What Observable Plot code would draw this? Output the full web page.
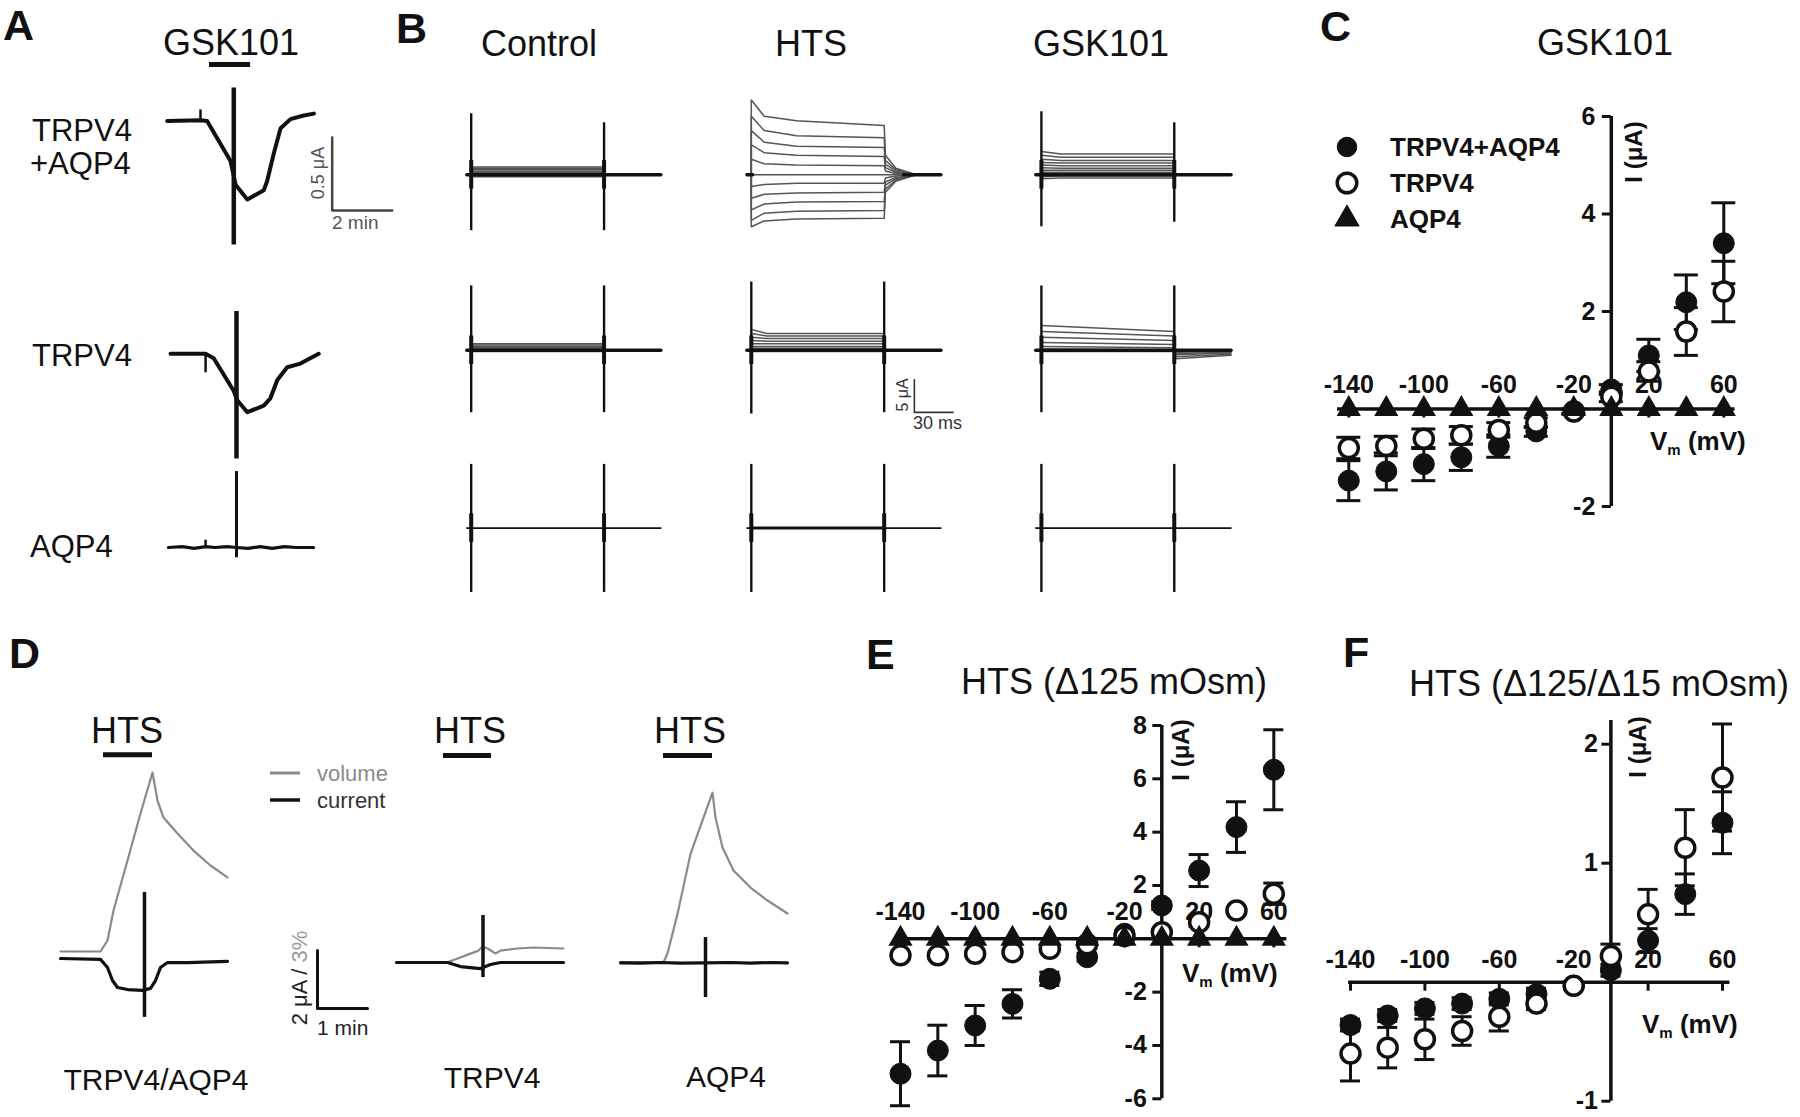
<!DOCTYPE html>
<html><head><meta charset="utf-8">
<script src="https://cdn.jsdelivr.net/npm/d3@7"></script>
<script src="https://cdn.jsdelivr.net/npm/@observablehq/plot@0.6"></script>
<style>
html,body{margin:0;padding:0;background:#fff;overflow:hidden}
#root{position:relative;width:1800px;height:1117px;background:#fff;font-family:"Liberation Sans",Arial,Helvetica,sans-serif}
#root svg{position:absolute;left:0;top:0}
</style></head>
<body><div id="root"></div>
<script>
// ================= DATA =================
// ---- Panel A: GSK101 current traces (time in min, current in µA) ----
const aRowLabels = [["TRPV4", "+AQP4"], ["TRPV4"], ["AQP4"]];
const aT1 = [0, 1.11, 1.33, 2.11, 2.28, 2.67, 3.22, 3.33, 3.55, 3.78, 4.11, 4.55, 4.89];
const aI1 = [0, 0.005, 0, -0.275, -0.437, -0.538, -0.475, -0.413, -0.225, -0.05, 0.012, 0.037, 0.05];
const aT2 = [0.11, 1.28, 1.55, 2.22, 2.33, 2.67, 3.22, 3.44, 3.67, 4.0, 4.44, 5.05];
const aI2 = [0, 0, -0.03, -0.255, -0.316, -0.4, -0.355, -0.305, -0.18, -0.092, -0.067, 0];
const aT3 = [0.04, 0.5, 0.9, 1.28, 1.6, 2.0, 2.31, 2.7, 3.1, 3.5, 3.9, 4.3, 4.88];
const aI3 = [0, 0.006, -0.006, 0.006, 0, 0.006, 0, -0.006, 0.006, -0.006, 0.006, 0, 0];
const aSpikeT = [2.22, 2.31, 2.31];
const aSpikeTop = [0.225, 0.29, 0.52];
const aSpikeBottom = [-0.85, -0.72, -0.07];
const aTickT = [1.11, 1.28, 1.28];
const aTickTop = [0.075, 0, 0.05];
const aTickBottom = [0, -0.13, 0];
const aGskBar = {t0: 1.41, t1: 2.78, i: 0.386};
const aScaleBar = {t: 5.5, i: -0.613, min: 2, uA: 0.5};

// ---- Panel B: step currents (time in ms, current in µA) ----
const bConditions = ["Control", "HTS", "GSK101"];
const bPulse = {pre: -3.4, on: 0, off: 103, end: 147};
// row 1 (TRPV4+AQP4)
const bCtl1 = [1.2, 1.0, 0.8, 0.6, 0.45, 0.3, 0.15, 0, -0.1, -0.2, -0.3];
const bHts1Peak = [11.5, 9.0, 6.8, 4.6, 2.4, 0, -1.8, -3.6, -5.4, -7.0, -8.0];
const bHts1Mid = [9.0, 6.8, 5.0, 3.4, 1.7, 0, -1.5, -3.0, -4.5, -5.9, -7.1];
const bHts1Early = [8.3, 6.0, 4.4, 3.0, 1.5, 0, -1.3, -2.8, -4.2, -5.6, -6.8];
const bHts1End = [7.6, 5.7, 4.2, 2.8, 1.4, 0, -1.3, -2.7, -4.1, -5.5, -6.7];
const bHts1Tail = [3.0, 2.2, 1.6, 1.1, 0.6, 0, -0.5, -1.1, -1.6, -2.2, -2.7];
const bHts1Tail2 = [1.0, 0.8, 0.6, 0.4, 0.2, 0, -0.2, -0.4, -0.6, -0.8, -1.0];
const bGsk1Start = [3.6, 3.0, 2.4, 1.9, 1.5, 1.1, 0.7, 0.4, 0.1, -0.3, -0.6];
const bGsk1End = [3.2, 2.7, 2.2, 1.8, 1.4, 1.0, 0.7, 0.4, 0.1, -0.2, -0.5];
// row 2 (TRPV4)
const bCtl2 = [1.0, 0.8, 0.6, 0.45, 0.3, 0.15, 0, -0.1, -0.2];
const bHts2Start = [3.2, 2.6, 2.0, 1.5, 1.0, 0.6, 0.3, 0, -0.2];
const bHts2End = [2.6, 2.2, 1.8, 1.4, 1.0, 0.6, 0.3, 0, -0.2];
const bGsk2Start = [3.8, 2.9, 2.0, 1.2, 0.6, 0.2, 0, -0.2];
const bGsk2End = [2.9, 2.2, 1.5, 0.9, 0.4, 0.1, 0, -0.2];
const bGsk2Tail = [-1.3, -1.0, -0.7, -0.5, -0.3, -0.1, 0, 0];
// capacitive spikes [on top, on bottom, off top, off bottom] per row, per column
const bSpikes = [
  [[9.4, -8.6, 8.0, -8.6], null, [9.7, -8.0, 8.0, -7.3]],
  [[9.9, -9.6, 9.9, -9.6], [10.5, -9.8, 10.5, -9.6], [9.9, -9.6, 9.9, -9.6]],
  [[9.8, -9.9, 9.8, -9.9], [9.8, -9.9, 9.8, -9.9], [9.8, -9.9, 9.8, -9.9]]
];
const bScaleBar = {t: 126.4, i: -9.55, ms: 30, uA: 5};

// ---- Panel C / E / F: I–V relations ----
const ivVoltages = [-140, -120, -100, -80, -60, -40, -20, 0, 20, 40, 60];
const ivSeries = ["TRPV4+AQP4", "TRPV4", "AQP4"];
const xTickValues = [-140, -100, -60, -20, 20, 60];

const cTicksY = [6, 4, 2, -2];
const cBoth = [-1.47, -1.28, -1.13, -0.99, -0.76, -0.46, -0.05, 0.4, 1.1, 2.19, 3.4];
const cBothErr = [0.41, 0.38, 0.34, 0.27, 0.23, 0.1, 0.05, 0.1, 0.33, 0.56, 0.83];
const cTrpv4 = [-0.8, -0.76, -0.61, -0.54, -0.43, -0.28, -0.05, 0.25, 0.77, 1.59, 2.41];
const cTrpv4Err = [0.22, 0.2, 0.2, 0.18, 0.15, 0.1, 0.05, 0.1, 0.2, 0.49, 0.62];
const cAqp4 = [0, 0, 0, 0, 0, 0, 0, 0, 0, 0, 0];

const eTicksY = [8, 6, 4, 2, -2, -4, -6];
const eBoth = [-5.06, -4.19, -3.25, -2.44, -1.5, -0.69, 0.19, 1.25, 2.56, 4.19, 6.34];
const eBothErr = [1.2, 0.95, 0.75, 0.53, 0.25, 0.15, 0.1, 0.15, 0.6, 0.95, 1.5];
const eTrpv4 = [-0.62, -0.62, -0.56, -0.5, -0.37, -0.2, 0.1, 0.25, 0.62, 1.06, 1.69];
const eTrpv4Err = [0.1, 0.1, 0.1, 0.1, 0.1, 0.1, 0.1, 0.1, 0.15, 0.1, 0.4];
const eAqp4 = [0, 0, 0, 0, 0, 0, 0, 0, 0, 0, 0];

const fTicksY = [2, 1, -1];
const fBoth = [-0.36, -0.28, -0.22, -0.18, -0.14, -0.1, -0.03, 0.1, 0.35, 0.74, 1.34];
const fBothErr = [0.05, 0.05, 0.05, 0.05, 0.05, 0.05, 0.03, 0.05, 0.1, 0.17, 0.26];
const fTrpv4 = [-0.6, -0.55, -0.48, -0.41, -0.29, -0.18, -0.03, 0.22, 0.57, 1.13, 1.72];
const fTrpv4Err = [0.23, 0.17, 0.17, 0.12, 0.12, 0.05, 0.03, 0.1, 0.21, 0.32, 0.45];

// ---- Panel D: volume (%) and current (µA) vs time (min) ----
const dLabels = ["TRPV4/AQP4", "TRPV4", "AQP4"];
const dVolT1 = [0, 0.8, 0.94, 1.06, 1.34, 1.6, 1.84, 1.94, 2.06, 2.34, 2.66, 3.0, 3.34];
const dVol1 = [0, 0, 0.57, 2.12, 4.71, 7.14, 9.26, 7.81, 6.93, 6.10, 5.22, 4.45, 3.83];
const dCurT1 = [0, 0.8, 0.94, 1.04, 1.14, 1.34, 1.64, 1.8, 1.9, 2.0, 2.14, 2.54, 3.34];
const dCur1 = [0, -0.03, -0.31, -0.76, -1.0, -1.07, -1.10, -1.03, -0.76, -0.31, -0.14, -0.14, -0.10];
const dVolT2 = [0, 1.02, 1.64, 1.72, 1.82, 1.98, 2.08, 2.42, 2.74, 3.34];
const dVol2 = [0, 0, 0.6, 0.81, 0.71, 0.45, 0.6, 0.71, 0.76, 0.71];
const dCurT2 = [0, 1.02, 1.28, 1.68, 1.88, 2.08, 3.34];
const dCur2 = [0, 0, -0.14, -0.21, -0.07, 0, 0];
const dVolT3 = [0, 0.86, 0.94, 1.14, 1.4, 1.84, 1.9, 2.04, 2.26, 2.6, 2.94, 3.34];
const dVol3 = [0, 0, 0.45, 2.5, 5.6, 8.77, 7.48, 5.93, 4.74, 3.86, 3.19, 2.52];
const dCurT3 = [0, 0.4, 0.8, 1.2, 1.7, 2.2, 2.6, 3.0, 3.34];
const dCur3 = [0, -0.01, 0.01, -0.01, 0, 0.01, -0.01, 0.01, 0];
const dSpikeT = [1.68, 1.73, 1.7];
const dSpikeTop = [2.28, 1.62, 0.87];
const dSpikeBottom = [-2.03, -0.52, -1.2];
const dHtsBar = [{t0: 0.86, t1: 1.84, i: 7.03}, {t0: 0.94, t1: 1.9, i: 7.14}, {t0: 0.86, t1: 1.84, i: 7.15}];
const dScaleBar = {t: 5.14, i: -1.72, min: 1, uA: 2};
const dLegend = ["volume", "current"];

// ================= LAYOUT HELPERS =================
const root = document.getElementById("root");
const FONT = '"Liberation Sans", Arial, Helvetica, sans-serif';
const INK = "#111";
function layer(options) {
  const svg = Plot.plot({
    width: 1800, height: 1117,
    style: {position: "absolute", left: "0px", top: "0px", background: "transparent", overflow: "visible", fontFamily: FONT},
    ...options
  });
  root.appendChild(svg);
}
// linear frame: unit of x -> pxX pixels starting at x0; unit of y -> pxY pixels up from y0
function frame(x0, pxX, y0, pxY) {
  return {x: {domain: [0, 1], range: [x0, x0 + pxX], axis: null},
          y: {domain: [0, 1], range: [y0, y0 - pxY], axis: null}};
}
const pts = (T, I) => T.map((t, k) => ({t, i: I[k]}));

// ================= PANEL A =================
const aX0 = 166.7, aPxMin = 30, aPxUA = 146, aBase = [120.4, 353.3, 547];
[[aT1, aI1], [aT2, aI2], [aT3, aI3]].forEach(([T, I], r) => {
  const marks = [
    Plot.line(pts(T, I), {x: "t", y: "i", stroke: INK, strokeWidth: r < 2 ? 4 : 3.2, strokeLinejoin: "round", strokeLinecap: "round"}),
    Plot.ruleX([{t: aSpikeT[r], a: aSpikeTop[r], b: aSpikeBottom[r]}], {x: "t", y1: "a", y2: "b", stroke: INK, strokeWidth: r < 2 ? 4.5 : 3}),
    Plot.ruleX([{t: aTickT[r], a: aTickTop[r], b: aTickBottom[r]}], {x: "t", y1: "a", y2: "b", stroke: INK, strokeWidth: 2.5})
  ];
  if (r === 0) {
    marks.push(Plot.ruleY([aGskBar], {y: "i", x1: "t0", x2: "t1", stroke: INK, strokeWidth: 5}));
    const s = aScaleBar;
    marks.push(Plot.line([{t: s.t, i: s.i + s.uA}, {t: s.t, i: s.i}, {t: s.t + s.min, i: s.i}], {x: "t", y: "i", stroke: "#444", strokeWidth: 2.5}));
  }
  layer({...frame(aX0, aPxMin, aBase[r], aPxUA), marks});
});

// ================= PANEL B =================
const bX0 = [470.7, 750.8, 1040.9], bBase = [174.3, 349.8, 527.6], bPxMs = 1.29, bPxUA = 6.5;
function stepTrace(k, knots) { return knots.map(([t, i]) => ({k, t, i})); }
function bCell(col, row, family, baseWidth, baseSegments) {
  const P = bPulse;
  const segs = baseSegments || [[P.pre - (col === 2 ? 1 : 0), P.end]];
  const base = segs.flatMap((s, k) => [{k, t: s[0], i: 0}, {k, t: s[1], i: 0}]);
  const marks = [];
  if (family.length) marks.push(Plot.line(family.flat(), {x: "t", y: "i", z: "k", stroke: "#555", strokeWidth: 1.5}));
  marks.push(Plot.line(base, {x: "t", y: "i", z: "k", stroke: INK, strokeWidth: baseWidth}));
  const sp = bSpikes[row][col];
  if (sp) {
    marks.push(Plot.ruleX([{t: P.on, a: sp[0], b: sp[1]}, {t: P.off, a: sp[2], b: sp[3]}], {x: "t", y1: "a", y2: "b", stroke: INK, strokeWidth: 2.4}));
    marks.push(Plot.ruleX([{t: P.on, a: 2.2, b: -2.2}, {t: P.off, a: 2.2, b: -2.2}], {x: "t", y1: "a", y2: "b", stroke: INK, strokeWidth: 4}));
  }
  if (row === 1 && col === 1) {
    const s = bScaleBar;
    marks.push(Plot.line([{t: s.t, i: s.i + s.uA}, {t: s.t, i: s.i}, {t: s.t + s.ms, i: s.i}], {x: "t", y: "i", stroke: "#333", strokeWidth: 1.6}));
  }
  layer({...frame(bX0[col], bPxMs, bBase[row], bPxUA), marks});
}
const P = bPulse;
// row 1
bCell(0, 0, bCtl1.map((L, k) => stepTrace(k, [[P.on, L], [P.off, L]])), 3.5);
bCell(1, 0, bHts1End.map((L, k) => stepTrace(k, [[P.pre, 0], [P.on, 0], [P.on, bHts1Peak[k]], [10, bHts1Mid[k]], [35, bHts1Early[k]], [P.off, L], [P.off + 1, bHts1Tail[k]], [112, bHts1Tail2[k]], [128, 0], [P.end, 0]])), 3.5,
  [[P.pre, P.on + 1], [118, P.end]]);
bCell(2, 0, bGsk1End.map((L, k) => stepTrace(k, [[P.on, bGsk1Start[k]], [15, L], [P.off, L]])), 3.5);
// row 2
bCell(0, 1, bCtl2.map((L, k) => stepTrace(k, [[P.on, L], [P.off, L]])), 3.5);
bCell(1, 1, bHts2End.map((L, k) => stepTrace(k, [[P.on, bHts2Start[k]], [12, L], [P.off, L]])), 3.5);
bCell(2, 1, bGsk2End.map((L, k) => stepTrace(k, [[P.on, bGsk2Start[k]], [P.off, L], [P.off + 1, bGsk2Tail[k]], [P.end, bGsk2Tail[k] * 0.6]])), 3.5);
// row 3
bCell(0, 2, [], 1.6);
bCell(1, 2, [], 1.6);
bCell(2, 2, [], 1.6);
// thicker HTS row-3 pulse segment
layer({...frame(bX0[1], bPxMs, bBase[2], bPxUA), marks: [Plot.line([{t: P.on, i: 0}, {t: P.off, i: 0}], {x: "t", y: "i", stroke: INK, strokeWidth: 3})]});

// ================= PANELS C, E, F =================
function ivPanel(cfg) {
  const rows = (vals, errs) => vals ? ivVoltages.map((v, k) => ({v, i: vals[k], e: errs ? errs[k] : 0})) : [];
  const F = rows(cfg.both, cfg.bothErr), O = rows(cfg.trpv4, cfg.trpv4Err), T = rows(cfg.aqp4);
  const cap = cfg.cap;
  const err = R => {
    R = R.filter(d => d.e > 0);
    return [
      Plot.ruleX(R, {x: "v", y1: d => d.i - d.e, y2: d => d.i + d.e, stroke: INK, strokeWidth: 3}),
      Plot.ruleY(R, {y: d => d.i + d.e, x1: "v", x2: "v", insetLeft: -cap, insetRight: -cap, stroke: INK, strokeWidth: 3}),
      Plot.ruleY(R, {y: d => d.i - d.e, x1: "v", x2: "v", insetLeft: -cap, insetRight: -cap, stroke: INK, strokeWidth: 3})
    ];
  };
  const marks = [
    Plot.ruleY([0], {x1: cfg.xExt[0], x2: cfg.xExt[1], stroke: INK, strokeWidth: 3.5}),
    Plot.ruleX([0], {y1: cfg.yExt[0], y2: cfg.yExt[1], stroke: INK, strokeWidth: 3.5}),
    Plot.ruleY(cfg.ticksY, {x1: 0, x2: 0, insetLeft: -9, stroke: INK, strokeWidth: 3}),
    Plot.ruleX(xTickValues, {y1: 0, y2: 0, insetBottom: -9, stroke: INK, strokeWidth: 3}),
    Plot.text(cfg.ticksY, {x: 0, y: d => d, text: d => String(d), dx: cfg.yLabelDx, textAnchor: "end", fontWeight: "bold", fontSize: 25, fill: INK}),
    Plot.text(xTickValues, {x: d => d, y: 0, text: d => String(d), dy: cfg.xLabelDy, fontWeight: "bold", fontSize: 25, fill: INK}),
    ...err(F), ...err(O),
    Plot.dot(F, {x: "v", y: "i", r: 10.5, fill: INK, stroke: INK, strokeWidth: 1}),
    Plot.dot(O, {x: "v", y: "i", r: 9.5, fill: "white", stroke: INK, strokeWidth: 3.5}),
    Plot.dot(T, {x: "v", y: "i", r: 9, symbol: "triangle", fill: INK, stroke: "none"})
  ];
  layer({x: {domain: [-140, 60], range: cfg.xRange, axis: null}, y: {domain: cfg.yDomain, range: cfg.yRange, axis: null}, marks});
}
ivPanel({xRange: [1348.3, 1723.3], yDomain: [-2, 6], yRange: [506, 116], ticksY: cTicksY,
  both: cBoth, bothErr: cBothErr, trpv4: cTrpv4, trpv4Err: cTrpv4Err, aqp4: cAqp4,
  xExt: [-146, 66], yExt: [-2, 6], xLabelDy: -24, yLabelDx: -16, cap: 12});
ivPanel({xRange: [900, 1273.3], yDomain: [-6, 8], yRange: [1098.3, 725], ticksY: eTicksY,
  both: eBoth, bothErr: eBothErr, trpv4: eTrpv4, trpv4Err: eTrpv4Err, aqp4: eAqp4,
  xExt: [-143, 67], yExt: [-6, 8], xLabelDy: -27, yLabelDx: -15, cap: 10});
ivPanel({xRange: [1350, 1722], yDomain: [-1, 2], yRange: [1100.7, 743.7], ticksY: fTicksY,
  both: fBoth, bothErr: fBothErr, trpv4: fTrpv4, trpv4Err: fTrpv4Err, aqp4: null,
  xExt: [-141, 64], yExt: [-1, 2.2], xLabelDy: -22, yLabelDx: -13, cap: 10});

// ================= PANEL D =================
const dX0 = [60, 396, 620], dVolBase = [951, 961.7, 961.7], dCurBase = [958, 962, 962.3];
const dPxMin = 50, dPxPct = 19.33, dPxUA = 29;
[[dVolT1, dVol1, dCurT1, dCur1], [dVolT2, dVol2, dCurT2, dCur2], [dVolT3, dVol3, dCurT3, dCur3]].forEach(([vt, vv, ct, cv], c) => {
  layer({...frame(dX0[c], dPxMin, dVolBase[c], dPxPct), marks: [
    Plot.line(pts(vt, vv), {x: "t", y: "i", stroke: "#8a8a8a", strokeWidth: 2.2, strokeLinejoin: "round"})
  ]});
  const marks = [
    Plot.line(pts(ct, cv), {x: "t", y: "i", stroke: INK, strokeWidth: 3.2, strokeLinejoin: "round"}),
    Plot.ruleX([{t: dSpikeT[c], a: dSpikeTop[c], b: dSpikeBottom[c]}], {x: "t", y1: "a", y2: "b", stroke: INK, strokeWidth: 3.5}),
    Plot.ruleY([dHtsBar[c]], {y: "i", x1: "t0", x2: "t1", stroke: INK, strokeWidth: 5})
  ];
  if (c === 0) {
    const s = dScaleBar;
    marks.push(Plot.line([{t: s.t, i: s.i + s.uA}, {t: s.t, i: s.i}, {t: s.t + s.min, i: s.i}], {x: "t", y: "i", stroke: INK, strokeWidth: 3}));
  }
  layer({...frame(dX0[c], dPxMin, dCurBase[c], dPxUA), marks});
});

// ================= TEXT & LEGENDS =================
const ann = d3.select(root).append("svg").attr("width", 1800).attr("height", 1117)
  .attr("font-family", FONT).style("position", "absolute").style("left", "0px").style("top", "0px");
function txt(s, x, y, o = {}) {
  const t = ann.append("text").attr("x", x).attr("y", y)
    .attr("font-size", o.size || 36).attr("font-weight", o.weight || "normal")
    .attr("text-anchor", o.anchor || "start").attr("fill", o.fill || INK).text(s);
  if (o.rotate) t.attr("x", 0).attr("y", 0).attr("transform", `translate(${x},${y}) rotate(${o.rotate})`).attr("dominant-baseline", "central");
  return t;
}
// panel letters
[["A", 3, 40], ["B", 396, 43], ["C", 1320, 41], ["D", 9, 668], ["E", 866, 669], ["F", 1343, 667]]
  .forEach(([s, x, y]) => txt(s, x, y, {size: 43, weight: "bold"}));
// titles
txt("GSK101", 231, 55, {anchor: "middle"});
bConditions.forEach((s, k) => txt(s, [539, 811, 1101][k], 56, {anchor: "middle"}));
txt("GSK101", 1605, 55, {anchor: "middle"});
[127, 470, 690].forEach(x => txt("HTS", x, 743, {anchor: "middle"}));
txt("HTS (\u0394125 mOsm)", 1114, 694, {anchor: "middle"});
txt("HTS (\u0394125/\u039415 mOsm)", 1599, 696, {anchor: "middle"});
// panel A row labels
txt(aRowLabels[0][0], 32, 141, {size: 31}); txt(aRowLabels[0][1], 30, 174, {size: 31});
txt(aRowLabels[1][0], 32, 366, {size: 31});
txt(aRowLabels[2][0], 30, 557, {size: 31});
// panel A scale bar labels
txt("0.5 \u03bcA", 318, 173, {size: 18, rotate: -90, anchor: "middle", fill: "#555"});
txt("2 min", 332, 229, {size: 19, fill: "#555"});
// panel B scale labels
txt("5 \u03bcA", 902, 395, {size: 16, rotate: -90, anchor: "middle", fill: "#333"});
txt("30 ms", 913, 429, {size: 18, fill: "#333"});
// panel D labels
txt(dLabels[0], 156, 1090, {size: 30, anchor: "middle"});
txt(dLabels[1], 492, 1088, {size: 30, anchor: "middle"});
txt(dLabels[2], 726, 1087, {size: 30, anchor: "middle"});
// panel D legend
ann.append("line").attr("x1", 270).attr("x2", 300).attr("y1", 773).attr("y2", 773).attr("stroke", "#8a8a8a").attr("stroke-width", 3);
ann.append("line").attr("x1", 270).attr("x2", 300).attr("y1", 800).attr("y2", 800).attr("stroke", INK).attr("stroke-width", 3.5);
txt(dLegend[0], 317, 781, {size: 22, fill: "#8a8a8a"});
txt(dLegend[1], 317, 808, {size: 22, fill: "#333"});
// panel D scale labels
{
  const t = txt("", 299, 978, {size: 22, rotate: -90, anchor: "middle"});
  t.append("tspan").attr("fill", "#222").text("2 \u03bcA / ");
  t.append("tspan").attr("fill", "#999").text("3%");
}
txt("1 min", 317, 1035, {size: 21, fill: "#222"});
// axis titles
function vm(x, y) {
  const t = txt("", x, y, {size: 26, weight: "bold"});
  t.append("tspan").text("V");
  t.append("tspan").attr("font-size", 15).attr("dy", 5).text("m");
  t.append("tspan").attr("dy", -5).text(" (mV)");
}
txt("I (\u03bcA)", 1633, 152, {size: 24, weight: "bold", rotate: -90, anchor: "middle"});
vm(1650, 450);
txt("I (\u03bcA)", 1180, 750, {size: 24, weight: "bold", rotate: -90, anchor: "middle"});
vm(1182, 982);
txt("I (\u03bcA)", 1637, 747, {size: 24, weight: "bold", rotate: -90, anchor: "middle"});
vm(1642, 1033);
// panel C legend
const legY = [147, 183, 219];
ivSeries.forEach((s, k) => {
  const sym = k === 2 ? d3.symbolTriangle : d3.symbolCircle;
  ann.append("path").attr("d", d3.symbol(sym, k === 2 ? 254 : 300)()).attr("transform", `translate(1347,${legY[k]})`)
    .attr("fill", k === 1 ? "white" : INK).attr("stroke", INK).attr("stroke-width", k === 1 ? 3.5 : 1);
  txt(s, 1390, legY[k], {size: 26, weight: "bold"}).attr("dominant-baseline", "central");
});
</script></body></html>
